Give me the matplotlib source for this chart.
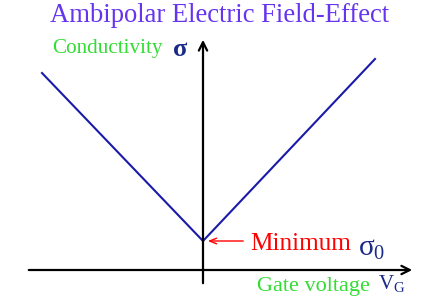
import matplotlib.pyplot as plt

# V-shaped conductivity vs gate voltage (origin at the axes crossing)
vg = [-161, 0, 172]
sigma = [197, 29, 211]

plt.rcParams['font.family'] = ['Liberation Serif', 'DejaVu Serif']

fig = plt.figure(figsize=(4.36, 3.02), dpi=100)
ax = fig.add_axes([0, 0, 1, 1])
ax.set_xlim(-203, 233)
ax.set_ylim(-32, 270)
ax.axis("off")

# axes with arrows
ax.annotate("", xy=(212, 0), xytext=(-177, 0),
            arrowprops={"arrowstyle": "->,head_length=0.6,head_width=0.3", "lw": 1.6, "color": "black"})
ax.annotate("", xy=(0, 233), xytext=(0, -16),
            arrowprops={"arrowstyle": "->,head_length=0.6,head_width=0.3", "lw": 1.6, "color": "black"})

ax.plot(vg, sigma, color="#1a1aaa", lw=1.5, solid_joinstyle="miter")

ax.text(17, 255, "Ambipolar Electric Field-Effect", color="#6633ee",
        fontsize=19.2, ha="center", va="center")
ax.text(-151, 222, "Conductivity", color="#33dd33", fontsize=15.2, va="center")
ax.text(-30, 220, "σ", color="#1a2a88", fontsize=19, va="center", weight="bold")

ax.annotate("", xy=(2, 29), xytext=(43, 29),
            arrowprops={"arrowstyle": "->,head_length=0.5,head_width=0.2", "lw": 1.0, "color": "red"})
ax.text(47, 26, "Minimum", color="red", fontsize=18.2, va="center")
ax.text(155, 21, r"$\mathregular{σ_0}$", color="#1a2a88", fontsize=21, va="center")

ax.text(54, -16, "Gate voltage", color="#33dd33", fontsize=16, va="center")
ax.text(175, -14, r"$\mathregular{V_G}$", color="#1a2a88", fontsize=15, va="center")

fig.savefig("out.png", dpi=100)
